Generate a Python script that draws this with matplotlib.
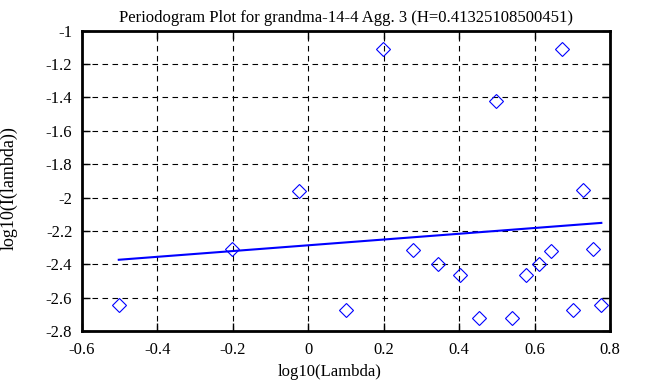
import matplotlib
matplotlib.use("Agg")
import matplotlib.pyplot as plt

# data
log_lambda = [-0.5025, -0.201, -0.024, 0.099, 0.199, 0.2765, 0.343, 0.401, 0.452,
              0.498, 0.539, 0.577, 0.613, 0.644, 0.673, 0.702, 0.728, 0.7546, 0.777]
log_I = [-2.647, -2.309, -1.958, -2.674, -1.111, -2.315, -2.401, -2.463, -2.725,
         -1.419, -2.725, -2.465, -2.401, -2.319, -1.111, -2.674, -1.952, -2.311, -2.647]
fit_x = [-0.5025, 0.777]
fit_y = [-2.373, -2.152]

x_ticks = [-0.6, -0.4, -0.2, 0, 0.2, 0.4, 0.6, 0.8]
x_tick_labels = ["-0.6", "-0.4", "-0.2", "0", "0.2", "0.4", "0.6", "0.8"]
y_ticks = [-2.8, -2.6, -2.4, -2.2, -2.0, -1.8, -1.6, -1.4, -1.2, -1.0]
y_tick_labels = ["-2.8", "-2.6", "-2.4", "-2.2", "-2", "-1.8", "-1.6", "-1.4", "-1.2", "-1"]

title = "Periodogram Plot for grandma-14-4 Agg. 3 (H=0.41325108500451)"

plt.rcParams['font.family'] = ['Liberation Serif', 'DejaVu Serif']

W, H = 658, 387
fig = plt.figure(figsize=(W / 100, H / 100), dpi=100)
L, R, T, B = 82, 610, 30.7, 331
ax = fig.add_axes([L / W, 1 - B / H, (R - L) / W, (B - T) / H])

ax.plot(log_lambda, log_I, linestyle='none', marker='D', markersize=7,
        markerfacecolor='none', markeredgecolor='#0000ff', markeredgewidth=0.8, zorder=3)
ax.plot(fit_x, fit_y, color='#0000ff', linewidth=1.5, zorder=3)

ax.set_xlim(-0.6, 0.8)
ax.set_ylim(-2.8, -1.0)
ax.set_xticks(x_ticks)
ax.set_xticklabels(x_tick_labels)
ax.set_yticks(y_ticks)
ax.set_yticklabels(y_tick_labels)

ax.grid(True, color='black', linestyle=(0, (5, 4)), linewidth=0.8)
ax.tick_params(direction='in', length=6, width=1, top=True, right=True,
               labelsize=12, colors='black')
ax.tick_params(axis='x', pad=8)
ax.tick_params(axis='y', pad=7)
for s in ax.spines.values():
    s.set_linewidth(2)
    s.set_color('black')

ax.set_xlabel("log10(Lambda)", fontsize=12)
ax.set_ylabel("log10(I(lambda))", fontsize=13)
ax.xaxis.set_label_coords((329.5 - L) / (R - L), -(364 - B) / (B - T))
ax.yaxis.set_label_coords((18 - L) / (R - L), (B - 188.5) / (B - T))
ax.set_title(title, fontsize=12, pad=6)

fig.savefig("out.png", dpi=100)
